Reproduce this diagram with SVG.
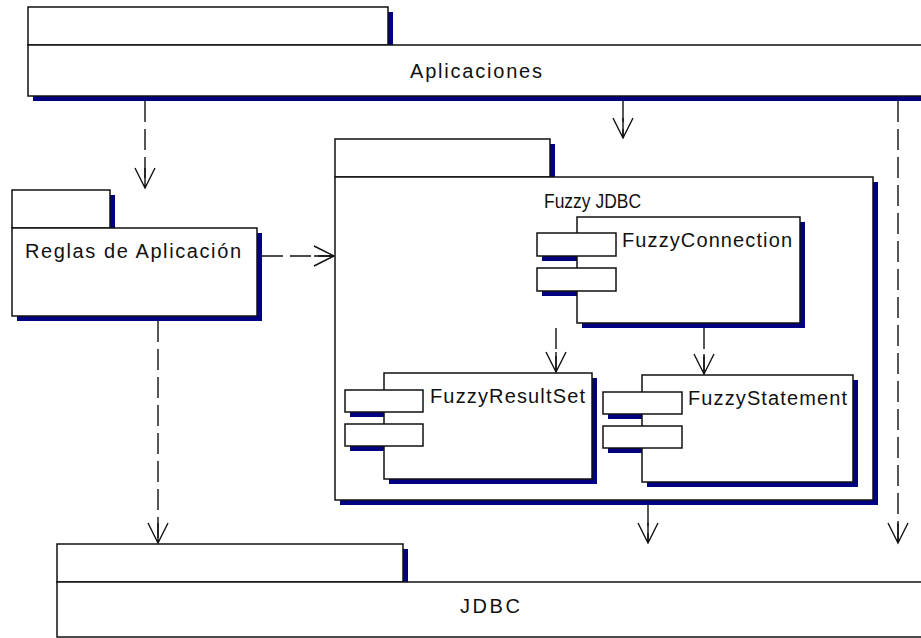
<svg xmlns="http://www.w3.org/2000/svg" width="921" height="638" viewBox="0 0 921 638">
<defs>
<style>
.bg{fill:#fff}
.box{fill:#fff;stroke:#111;stroke-width:1.5}
.sh{fill:#000080}
.t{font-family:"Liberation Sans",Arial,sans-serif;font-size:20px;fill:#111}
.dep{fill:none;stroke:#111;stroke-width:1.4;stroke-dasharray:21 7;marker-end:url(#open)}
</style>
<marker id="open" markerUnits="userSpaceOnUse" markerWidth="30" markerHeight="30" refX="0" refY="0" viewBox="-25 -15 30 30" orient="auto" overflow="visible">
<path d="M-20,-10 L0,0 L-20,10 M-20,0 L0,0" fill="none" stroke="#111" stroke-width="1.4"/>
</marker>
</defs>
<rect class="bg" x="0" y="0" width="921" height="638"/>

<g id="aplicaciones">
<rect class="sh" x="33" y="12" width="360" height="38"/>
<rect class="sh" x="33" y="50" width="900" height="51"/>
<rect class="box" x="28" y="7" width="360" height="38"/>
<rect class="box" x="28" y="45" width="900" height="51"/>
<text class="t" x="410" y="78" textLength="132">Aplicaciones</text>
</g>

<g id="reglas">
<rect class="sh" x="17" y="195" width="98" height="38"/>
<rect class="sh" x="17" y="233" width="245" height="88"/>
<rect class="box" x="12" y="190" width="98" height="38"/>
<rect class="box" x="12" y="228" width="245" height="88"/>
<text class="t" x="25" y="258" textLength="216">Reglas de Aplicación</text>
</g>

<g id="fuzzyjdbc">
<rect class="sh" x="340" y="144" width="215" height="38"/>
<rect class="sh" x="340" y="182" width="538" height="323"/>
<rect class="box" x="335" y="139" width="215" height="38"/>
<rect class="box" x="335" y="177" width="538" height="323"/>
<text class="t" x="544" y="208" textLength="97" lengthAdjust="spacingAndGlyphs">Fuzzy JDBC</text>
</g>

<g id="fuzzyconnection">
<rect class="sh" x="542" y="238" width="79" height="23"/>
<rect class="sh" x="542" y="273" width="79" height="23"/>
<rect class="sh" x="582" y="222" width="223" height="106"/>
<rect class="box" x="577" y="217" width="223" height="106"/>
<rect class="box" x="537" y="233" width="79" height="23"/>
<rect class="box" x="537" y="268" width="79" height="23"/>
<text class="t" x="622" y="247" textLength="170">FuzzyConnection</text>
</g>

<g id="fuzzyresultset">
<rect class="sh" x="350" y="395" width="78" height="22"/>
<rect class="sh" x="350" y="429" width="78" height="22"/>
<rect class="sh" x="389" y="378" width="208" height="106"/>
<rect class="box" x="384" y="373" width="208" height="106"/>
<rect class="box" x="345" y="390" width="78" height="22"/>
<rect class="box" x="345" y="424" width="78" height="22"/>
<text class="t" x="430" y="403" textLength="155">FuzzyResultSet</text>
</g>

<g id="fuzzystatement">
<rect class="sh" x="608" y="397" width="79" height="22"/>
<rect class="sh" x="608" y="431" width="79" height="22"/>
<rect class="sh" x="647" y="380" width="211" height="107"/>
<rect class="box" x="642" y="375" width="211" height="107"/>
<rect class="box" x="603" y="392" width="79" height="22"/>
<rect class="box" x="603" y="426" width="79" height="22"/>
<text class="t" x="688" y="405" textLength="159">FuzzyStatement</text>
</g>

<g id="jdbc">
<rect class="sh" x="62" y="549" width="346" height="38"/>
<rect class="box" x="57" y="544" width="346" height="38"/>
<rect class="box" x="57" y="582" width="900" height="55"/>
<text class="t" x="460" y="613" textLength="60">JDBC</text>
</g>

<g id="connectors">
<line class="dep" x1="145" y1="101" x2="145" y2="188"/>
<line class="dep" x1="623" y1="101" x2="623" y2="138"/>
<line class="dep" x1="898" y1="101" x2="898" y2="543"/>
<line class="dep" x1="262" y1="256" x2="334" y2="256"/>
<line class="dep" x1="158" y1="321" x2="158" y2="543"/>
<line class="dep" x1="648" y1="505" x2="648" y2="543"/>
<line class="dep" x1="556" y1="328" x2="556" y2="372"/>
<line class="dep" x1="704" y1="328" x2="704" y2="374"/>
</g>
</svg>
